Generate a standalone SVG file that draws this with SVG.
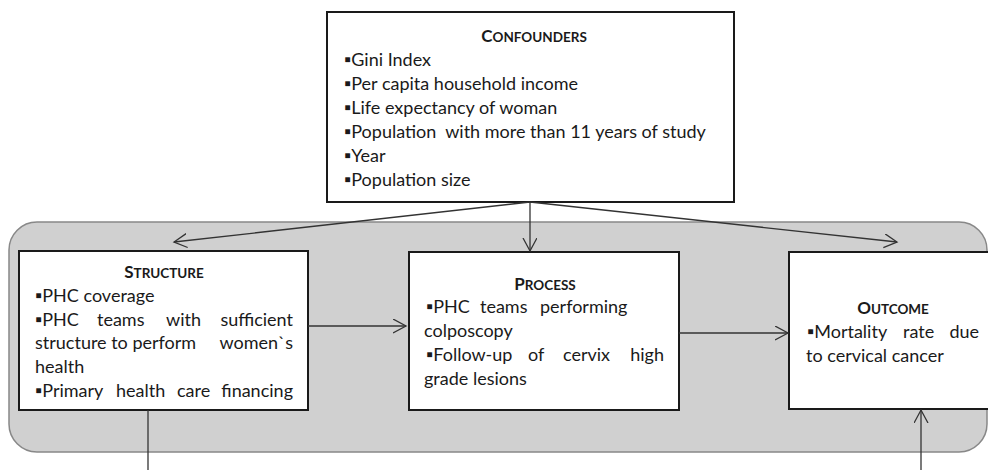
<svg xmlns="http://www.w3.org/2000/svg" width="988" height="470" viewBox="0 0 988 470">
<defs>
<style>
.box{fill:#fff;stroke:#1a1a1a;stroke-width:2}
.t{font-family:Lato,"Open Sans","Liberation Sans",sans-serif;font-size:18px;fill:#1a1a1a}
.h{font-family:Lato,"Open Sans","Liberation Sans",sans-serif;font-weight:bold;font-size:17px;fill:#1a1a1a;text-anchor:middle}
.sc{font-size:13.5px}
.e{text-anchor:end}
.c{stroke:#333;stroke-width:1.3;fill:none}
</style>
<marker id="a" markerWidth="16" markerHeight="16" refX="13" refY="7" orient="auto" markerUnits="userSpaceOnUse">
<path d="M0,0 L13,7 L0,14" fill="none" stroke="#333" stroke-width="1.3"/>
</marker>
</defs>
<rect id="frame" x="9" y="222" width="978" height="230" rx="28" ry="28" fill="#d0d0d0" stroke="#888" stroke-width="1.5"/>
<g id="confounders">
<rect class="box" x="327" y="12" width="407" height="190"/>
<text class="h" x="534" y="42">C<tspan class="sc">ONFOUNDERS</tspan></text>
<text class="t" x="344" y="66">▪Gini Index</text>
<text class="t" x="344" y="90">▪Per capita household income</text>
<text class="t" x="344" y="114">▪Life expectancy of woman</text>
<text class="t" x="344" y="138" xml:space="preserve">▪Population  with more than 11 years of study</text>
<text class="t" x="344" y="162">▪Year</text>
<text class="t" x="344" y="186">▪Population size</text>
</g>
<g id="structure">
<rect class="box" x="19" y="251" width="289" height="159"/>
<text class="h" x="164" y="278">S<tspan class="sc">TRUCTURE</tspan></text>
<text class="t" x="35" y="302">▪PHC coverage</text>
<text class="t" y="326"><tspan x="35">▪PHC</tspan><tspan x="97">teams</tspan><tspan x="166">with</tspan><tspan x="293" class="e">sufficient</tspan></text>
<text class="t" y="349"><tspan x="35">structure to perform</tspan><tspan x="293" class="e">women`s</tspan></text>
<text class="t" x="35" y="373">health</text>
<text class="t" y="397"><tspan x="35">▪Primary</tspan><tspan x="116">health</tspan><tspan x="177">care</tspan><tspan x="293" class="e">financing</tspan></text>
</g>
<g id="process">
<rect class="box" x="409" y="252" width="270" height="158"/>
<text class="h" x="545" y="290">P<tspan class="sc">ROCESS</tspan></text>
<text class="t" y="313"><tspan x="426">▪PHC</tspan><tspan x="480">teams</tspan><tspan x="540">performing</tspan></text>
<text class="t" x="424" y="337">colposcopy</text>
<text class="t" y="361"><tspan x="426">▪Follow-up</tspan><tspan x="528">of</tspan><tspan x="563">cervix</tspan><tspan x="664" class="e">high</tspan></text>
<text class="t" x="424" y="385">grade lesions</text>
</g>
<g id="outcome">
<rect class="box" x="789" y="252" width="210" height="157"/>
<text class="h" x="893" y="314">O<tspan class="sc">UTCOME</tspan></text>
<text class="t" y="338"><tspan x="807">▪Mortality</tspan><tspan x="903">rate</tspan><tspan x="979" class="e">due</tspan></text>
<text class="t" x="806" y="362">to cervical cancer</text>
</g>
<g id="connectors">
<line class="c" x1="530" y1="202" x2="174" y2="242" marker-end="url(#a)"/>
<line class="c" x1="530" y1="202" x2="530" y2="251" marker-end="url(#a)"/>
<line class="c" x1="530" y1="202" x2="897" y2="242" marker-end="url(#a)"/>
<line class="c" x1="308" y1="326" x2="406" y2="326" marker-end="url(#a)"/>
<line class="c" x1="679" y1="333" x2="788" y2="333" marker-end="url(#a)"/>
<line class="c" x1="148" y1="410" x2="148" y2="470"/>
<line class="c" x1="921" y1="470" x2="921" y2="410" marker-end="url(#a)"/>
</g>
</svg>
